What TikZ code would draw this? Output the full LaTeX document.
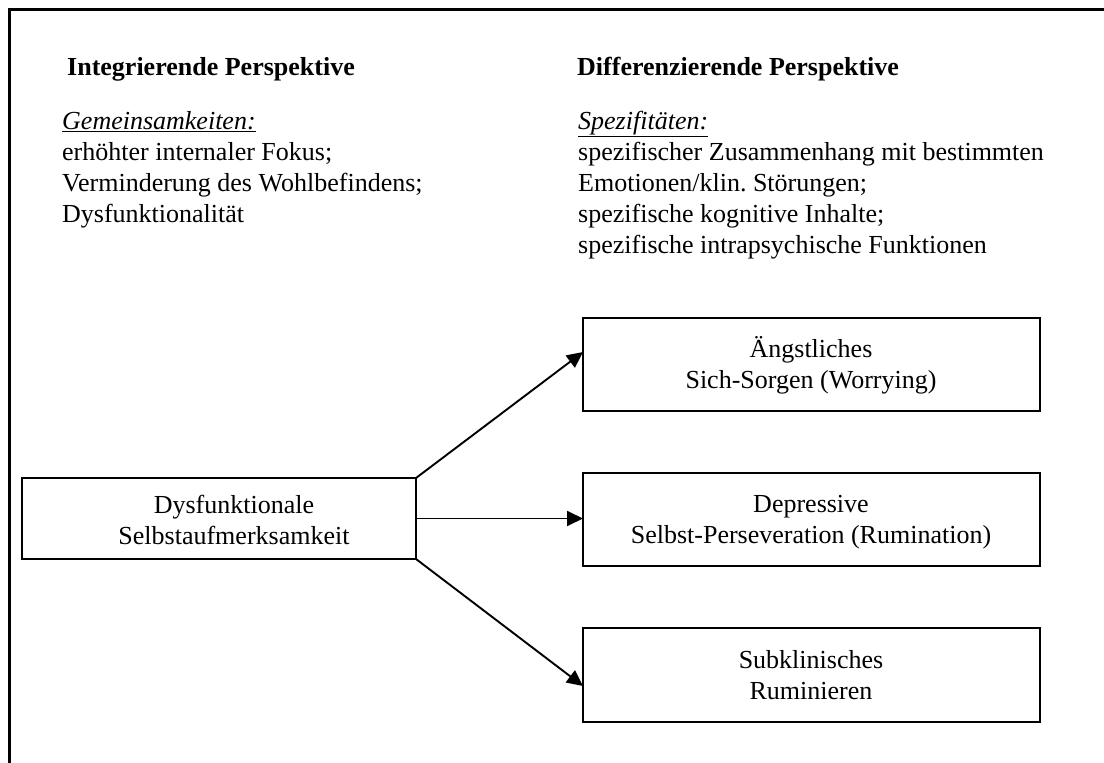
\documentclass[tikz,border=0pt]{standalone}
\usepackage{fontspec}
\setmainfont{Liberation Serif}
\usetikzlibrary{arrows.meta}
\frenchspacing
\begin{document}
\begin{tikzpicture}[x=1pt,y=-1pt,
  every node/.style={font=\fontsize{26}{31}\selectfont},
  frameline/.style={line width=2.2pt},
  boxstyle/.style={draw,line width=1.9pt},
  conn/.style={line width=1.9pt,-{Triangle[length=16pt,width=15pt]}},
  txt/.style={anchor=north west,align=left,inner sep=0pt},
  ctxt/.style={align=center,inner sep=0pt}]
\useasboundingbox (0,0) rectangle (1104,763);
% outer frame (open to the right and bottom)
\draw[frameline] (9.5,763) -- (9.5,9.5) -- (1104,9.5);

% headings
\node[txt] (hl) at (67,57) {\textbf{Integrierende Perspektive}};
\node[txt] (hr) at (577,57) {\textbf{Differenzierende Perspektive}};

% left column text
\node[txt] (tl) at (62,111) {\underline{\textit{Gemeinsamkeiten:}}\\
erhöhter internaler Fokus;\\
Verminderung des Wohlbefindens;\\
Dysfunktionalität};

% right column text
\node[txt] (tr) at (578,111) {\underline{\textit{Spezifitäten:}}\\
spezifischer Zusammenhang mit bestimmten\\
Emotionen/klin. Störungen;\\
spezifische kognitive Inhalte;\\
spezifische intrapsychische Funktionen};

% boxes
\draw[boxstyle] (22,478) rectangle (416,559);
\node[ctxt] (src) at (234,519.5) {Dysfunktionale\\Selbstaufmerksamkeit};
\coordinate (srcT) at (416,478);
\coordinate (srcM) at (416,518.5);
\coordinate (srcB) at (416,559);

\draw[boxstyle] (583,318) rectangle (1040,411);
\node[ctxt] (a) at (811,365) {Ängstliches\\Sich-Sorgen (Worrying)};
\coordinate (aL) at (583,352);

\draw[boxstyle] (583,473) rectangle (1040,566);
\node[ctxt] (b) at (811,522) {Depressive\\Selbst-Perseveration (Rumination)};
\coordinate (bL) at (583,518.5);

\draw[boxstyle] (583,628) rectangle (1040,722);
\node[ctxt] (c) at (811,674.7) {Subklinisches\\Ruminieren};
\coordinate (cL) at (583,686);

% connectors
\draw[conn] (srcT) -- (aL);
\draw[conn] (srcM) -- (bL);
\draw[conn] (srcB) -- (cL);
\end{tikzpicture}
\end{document}
